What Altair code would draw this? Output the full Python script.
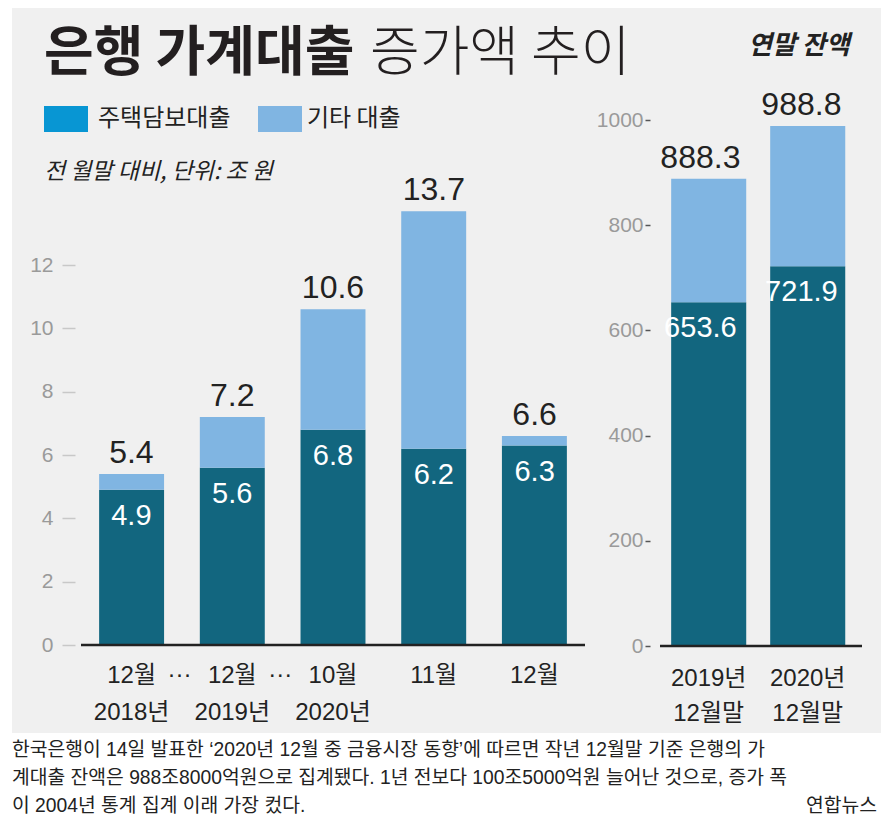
import altair as alt
import pandas as pd

FONT = "'Liberation Sans Narrow', 'Liberation Sans', 'Noto Sans CJK KR', sans-serif"
KFONT = "'Noto Sans CJK KR', sans-serif"

# ---------------- data ----------------
series = ["주택담보대출", "기타 대출"]
bar_colors = ["#12667f", "#80b5e2"]
legend_colors = ["#0896d3", "#80b5e2"]

left_cats = ["2018년 12월", "2019년 12월", "2020년 10월", "2020년 11월", "2020년 12월"]
left_line1 = ["12월", "12월", "10월", "11월", "12월"]
left_line2 = ["2018년", "2019년", "2020년", "", ""]
left_mortgage = [4.9, 5.6, 6.8, 6.2, 6.3]
left_other = [0.5, 1.6, 3.8, 7.5, 0.3]
left_total = [5.4, 7.2, 10.6, 13.7, 6.6]
left_ticks = [0, 2, 4, 6, 8, 10, 12]
ellipsis_cats = ["2018년 12월", "2019년 12월"]

right_cats = ["2019년 12월말", "2020년 12월말"]
right_line1 = ["2019년", "2020년"]
right_line2 = ["12월말", "12월말"]
right_mortgage = [653.6, 721.9]
right_other = [234.7, 266.9]
right_total = [888.3, 988.8]
right_ticks = [0, 200, 400, 600, 800, 1000]

title_bold = "은행 가계대출"
title_light = "증가액 추이"
right_title = "연말 잔액"
subtitle = "전 월말 대비, 단위: 조 원"
footer_lines = [
    "한국은행이 14일 발표한 ‘2020년 12월 중 금융시장 동향’에 따르면 작년 12월말 기준 은행의 가",
    "계대출 잔액은 988조8000억원으로 집계됐다. 1년 전보다 100조5000억원 늘어난 것으로, 증가 폭",
    "이 2004년 통계 집계 이래 가장 컸다.",
]
source = "연합뉴스"

# ---------------- tables ----------------
def long_table(cats, mort, oth):
    rows = []
    for c, m, o in zip(cats, mort, oth):
        rows.append({"cat": c, "series": series[0], "value": m, "ord": 0})
        rows.append({"cat": c, "series": series[1], "value": o, "ord": 1})
    return pd.DataFrame(rows)

left_long = long_table(left_cats, left_mortgage, left_other)
right_long = long_table(right_cats, right_mortgage, right_other)
left_lab = pd.DataFrame({"cat": left_cats, "mort": left_mortgage, "total": left_total})
right_lab = pd.DataFrame({"cat": right_cats, "mort": right_mortgage, "total": right_total})


def label_expr(cats, l1, l2):
    parts = []
    for c, a, b in zip(cats, l1, l2):
        arr = [a] + ([b] if b else [])
        js = "[" + ",".join("'" + s + "'" for s in arr) + "]"
        parts.append(f"datum.value == '{c}' ? {js}")
    return " : ".join(parts) + " : datum.label"


W, H = 873, 812

xl_scale = alt.Scale(domain=left_cats, range=[73, 577], paddingInner=0.355, paddingOuter=0.18)
yl_scale = alt.Scale(domain=[0, 12], range=[637, 257], nice=False)
xr_scale = alt.Scale(domain=right_cats, range=[652, 854], paddingInner=0.242, paddingOuter=0.141, align=0.4)
yr_scale = alt.Scale(domain=[0, 1000], range=[638, 112], nice=False)
color_scale = alt.Scale(domain=series, range=bar_colors)

xl_axis = alt.Axis(orient="bottom", offset=-(H - 637), domain=False, ticks=False, grid=False,
                   labelExpr=label_expr(left_cats, left_line1, left_line2), labelFont=FONT,
                   labelFontSize=24, labelColor="#222", labelPadding=18, labelLineHeight=37,
                   labelAngle=0, title=None, labelOverlap=False, labelLimit=0, zindex=2)
xr_axis = alt.Axis(orient="bottom", offset=-(H - 637), domain=False, ticks=False, grid=False,
                   labelExpr=label_expr(right_cats, right_line1, right_line2), labelFont=FONT,
                   labelFontSize=24, labelColor="#222", labelPadding=21, labelLineHeight=35,
                   labelAngle=0, title=None, labelOverlap=False, labelLimit=0, zindex=2)
yl_axis = alt.Axis(orient="left", offset=-67, values=left_ticks, domain=False, grid=False,
                   tickSize=13, tickColor="#c8c8c8", tickWidth=1.5, labelColor="#9a9a9a",
                   labelFontSize=21, labelFont=FONT, labelPadding=9, title=None, labelOverlap=False,
                   format="d", zindex=2)
yr_axis = alt.Axis(orient="left", offset=-642, values=right_ticks, domain=False, grid=False,
                   tickSize=5, tickColor="#555", tickWidth=1.5, labelColor="#9a9a9a",
                   labelFontSize=21, labelFont=FONT, labelPadding=2, title=None, labelOverlap=False,
                   format="d", zindex=2)

one = alt.Data(values=[{}])

def deco_text(txt, x, y, size, **kw):
    params = dict(text=txt, fontSize=size, align="left", baseline="middle", color="#222", font=KFONT)
    params.update(kw)
    return alt.Chart(one).mark_text(**params).encode(x=alt.value(x), y=alt.value(y))

def deco_rect(x, x2, y, y2, color):
    return alt.Chart(one).mark_rect(fill=color, color=color).encode(
        x=alt.value(x), x2=alt.value(x2), y=alt.value(y), y2=alt.value(y2))

layers = [
    deco_rect(4, W, 0, 725, "#f0f0f0"),
    deco_text(title_bold, 36, 63, 54, baseline="alphabetic", fontWeight="bold", color="#231f20"),
    deco_text(title_light, 362, 63, 54, baseline="alphabetic", fontWeight=300, color="#231f20"),
    deco_text(right_title, 740, 38, 26, fontWeight="bold", fontStyle="italic"),
    deco_rect(36, 80, 98, 124, legend_colors[0]),
    deco_text(series[0], 90, 111, 24),
    deco_rect(250, 294, 98, 124, legend_colors[1]),
    deco_text(series[1], 299, 111, 24),
    deco_text(subtitle, 36, 164, 23, fontStyle="italic"),
]
for i, line in enumerate(footer_lines):
    layers.append(deco_text(line, 4, 742 + 28 * i, 19.3, font=FONT))
layers.append(deco_text(source, W - 4, 798, 19.3, font=FONT, align="right"))

# left panel
layers.append(
    alt.Chart(left_long).mark_bar().encode(
        x=alt.X("cat:N", scale=xl_scale, axis=xl_axis),
        y=alt.Y("value:Q", stack="zero", scale=yl_scale, axis=yl_axis),
        color=alt.Color("series:N", scale=color_scale, legend=None),
        order=alt.Order("ord:Q"),
    )
)
layers.append(
    alt.Chart(pd.DataFrame({"v": [0]})).mark_rule(color="#222", strokeWidth=2.5).encode(
        y=alt.Y("v:Q", scale=yl_scale, axis=None), x=alt.value(73), x2=alt.value(577))
)
layers.append(
    alt.Chart(left_lab).mark_text(font=FONT, fontSize=32, color="#222", baseline="alphabetic", dy=-11).encode(
        x=alt.X("cat:N", scale=xl_scale, axis=None),
        y=alt.Y("total:Q", scale=yl_scale, axis=None),
        text=alt.Text("total:Q", format=".1f"))
)
layers.append(
    alt.Chart(left_lab).mark_text(font=FONT, fontSize=29, color="white", baseline="alphabetic", dy=35).encode(
        x=alt.X("cat:N", scale=xl_scale, axis=None),
        y=alt.Y("mort:Q", scale=yl_scale, axis=None),
        text=alt.Text("mort:Q", format=".1f"))
)
layers.append(
    alt.Chart(pd.DataFrame({"cat": ellipsis_cats})).mark_text(
        text="···", font=FONT, fontSize=24, color="#222", dx=48, baseline="middle").encode(
        x=alt.X("cat:N", scale=xl_scale, axis=None), y=alt.value(667))
)

# right panel
layers.append(
    alt.Chart(right_long).mark_bar().encode(
        x=alt.X("cat:N", scale=xr_scale, axis=xr_axis),
        y=alt.Y("value:Q", stack="zero", scale=yr_scale, axis=yr_axis),
        color=alt.Color("series:N", scale=color_scale, legend=None),
        order=alt.Order("ord:Q"),
    )
)
layers.append(
    alt.Chart(pd.DataFrame({"v": [0]})).mark_rule(color="#222", strokeWidth=2.5).encode(
        y=alt.Y("v:Q", scale=yr_scale, axis=None), x=alt.value(652), x2=alt.value(854))
)
layers.append(
    alt.Chart(right_lab).mark_text(font=FONT, fontSize=32, color="#222", baseline="alphabetic", dy=-11).encode(
        x=alt.X("cat:N", scale=xr_scale, axis=None),
        y=alt.Y("total:Q", scale=yr_scale, axis=None),
        text=alt.Text("total:Q", format=".1f"))
)
layers.append(
    alt.Chart(right_lab).mark_text(font=FONT, fontSize=29, color="white", baseline="alphabetic", dy=35).encode(
        x=alt.X("cat:N", scale=xr_scale, axis=None),
        y=alt.Y("mort:Q", scale=yr_scale, axis=None),
        text=alt.Text("mort:Q", format=".1f"))
)

chart = alt.layer(*layers).resolve_scale(
    x="independent", y="independent", color="shared"
).resolve_axis(x="independent", y="independent").properties(
    width=W, height=H, autosize=alt.AutoSizeParams(type="none"), padding=0, background="white"
).configure_view(stroke=None)

chart.save("out.html", embed_options={"renderer": "svg", "actions": False})
